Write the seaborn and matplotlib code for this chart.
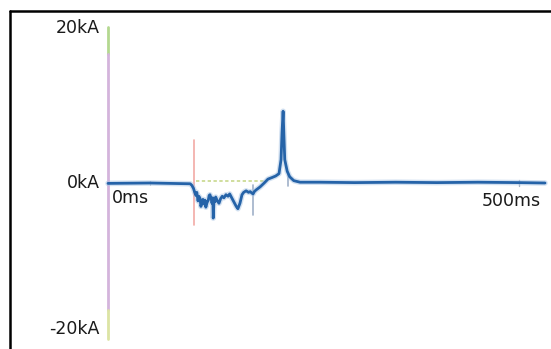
import numpy as np
import pandas as pd
import seaborn as sns
import matplotlib.pyplot as plt
from matplotlib.lines import Line2D

# Fault current trace (time in ms, current in kA).
time_ms = [0, 51, 100, 102, 104, 105.5, 107, 108, 109.5, 110.5, 112, 113, 114,
           115.5, 117, 118, 119, 120.5, 122, 123, 124, 125.5, 126.5, 127.5, 128,
           129, 130, 131, 133, 135, 137, 139, 141, 143.5, 146, 148, 150, 152, 154,
           156, 158, 160.5, 163, 165, 168, 171, 173, 175, 176.5, 178, 180, 185,
           190, 194.6, 199.5, 204, 208, 210.5, 211.7, 213, 214, 215, 218, 221,
           226, 233.6, 258, 300, 350, 400, 450, 500, 531.6]
current_ka = [-0.05, 0.0, -0.1, -0.3, -0.7, -1.2, -1.6, -1.2, -2.3, -1.7, -2.0,
              -3.0, -2.6, -2.1, -2.7, -2.2, -3.1, -2.5, -2.2, -1.6, -1.5, -2.0,
              -2.6, -1.9, -4.5, -2.0, -2.4, -1.8, -2.3, -2.6, -2.0, -1.7, -1.9,
              -1.5, -1.7, -1.4, -1.8, -2.2, -2.6, -3.0, -3.3, -2.6, -1.5, -1.2,
              -1.0, -1.2, -1.1, -1.3, -1.4, -1.1, -0.9, -0.5, 0.0, 0.5, 0.7, 0.9,
              1.2, 3.0, 6.5, 9.2, 6.0, 3.0, 1.5, 0.8, 0.3, 0.1, 0.1, 0.05, 0.1,
              0.05, 0.1, 0.05, 0.0]

# Cursor markers on the trace (ms, kA bottom, kA top)
red_cursor = (104.6, -5.4, 5.5)
grey_cursors = [(176, -4.1, -0.25), (219, -0.4, 1.4)]
dotted_ref = (107, 191, 0.3)

y_labels = ['20kA', '0kA', '-20kA']
y_label_pos = [19.9, 0.0, -18.7]
x_labels = ['0ms', '500ms']

df = pd.DataFrame({'t': time_ms, 'i': current_ka})

sns.set_theme(style='white')
plt.rcParams['font.family'] = ['DejaVu Sans']

fig = plt.figure(figsize=(5.51, 3.49), dpi=100)
ax = fig.add_axes([0, 0, 1, 1])
ax.set_xlim(-131.4, 538.9)
ax.set_ylim(-21.28, 23.46)
ax.axis('off')

# vertical axis: green ends, purple middle
ax.plot([0, 0], [16.5, 20], color='#b4d890', lw=2)
ax.plot([0, 0], [-16.3, 16.5], color='#d4b4dc', lw=2)
ax.plot([0, 0], [-20, -16.3], color='#dce4a4', lw=2)

# cursors / reference lines
ax.plot([red_cursor[0]] * 2, red_cursor[1:], color='#f2aaa6', lw=1.2)
for t, lo, hi in grey_cursors:
    ax.plot([t, t], [lo, hi], color='#9fb0c8', lw=1.2)
ax.plot(dotted_ref[:2], [dotted_ref[2]] * 2, color='#c8d88c', lw=1.2, ls=(0, (2, 1.5)))
ax.plot([500, 500], [-0.4, 0.4], color='#a8b4c4', lw=1)
ax.plot([51, 51], [-0.3, 0.3], color='#c0c8d0', lw=0.8)

sns.lineplot(data=df, x='t', y='i', ax=ax, color='#a8c4e4', lw=4.0, alpha=0.5)
sns.lineplot(data=df, x='t', y='i', ax=ax, color='#2563a8', lw=2.0)

for lab, yy in zip(y_labels, y_label_pos):
    ax.text(-10, yy, lab, ha='right', va='center', fontsize=12.5, color='#1a1a1a')
ax.text(5, -1.9, x_labels[0], ha='left', va='center', fontsize=12.5, color='#1a1a1a')
ax.text(526, -2.3, x_labels[1], ha='right', va='center', fontsize=12.5, color='#1a1a1a')

# black frame on left and top of the screenshot
fx, fy = 9.5 / 551, 1 - 11 / 349
fig.add_artist(Line2D([fx, fx], [0, fy], transform=fig.transFigure, color='black', lw=1.8))
fig.add_artist(Line2D([fx, 1], [fy, fy], transform=fig.transFigure, color='black', lw=1.8))

fig.savefig('out.png', dpi=100)
